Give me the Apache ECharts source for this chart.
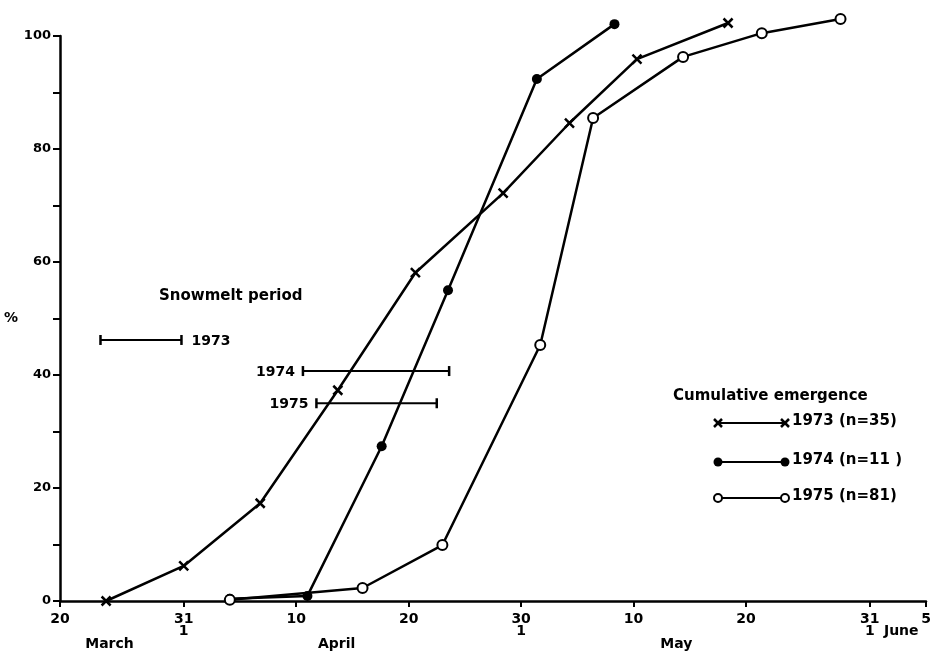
<!DOCTYPE html>
<html>
<head>
<meta charset="utf-8">
<script src="https://cdn.jsdelivr.net/npm/echarts@6/dist/echarts.min.js"></script>
<style>
  html, body { margin: 0; padding: 0; background: #fff; }
  #chart { width: 935px; height: 652px; }
</style>
</head>
<body>
<div id="chart"></div>
<script>
// days counted from 20 March (day 0), values in %
const days73 = [4.1, 11.0, 17.8, 24.7, 31.6, 39.4, 45.3, 51.3, 59.4]
const pct73 = [0, 6.2, 17.3, 37.3, 58.1, 72.2, 84.6, 95.9, 102.3]
const days74 = [15.1, 22.0, 28.6, 34.5, 42.4, 49.3]
const pct74 = [0.4, 0.9, 27.4, 55.0, 92.4, 102.1]
const days75 = [15.1, 26.9, 34.0, 42.7, 47.4, 55.4, 62.4, 69.4]
const pct75 = [0.2, 2.3, 9.9, 45.3, 85.5, 96.3, 100.5, 103.0]
const seriesNames = ['1973 (n=35)', '1974 (n=11 )', '1975 (n=81)']

// snowmelt periods
const snowYears = ['1973', '1974', '1975']
const snowStart = [3.6, 21.6, 22.8]
const snowEnd = [10.8, 34.6, 33.5]
const snowLevel = [46.2, 40.7, 35.0]

// x axis ticks and labels
const tickDays = [0, 11, 21, 31, 41, 51, 61, 72, 77]
const tickLabels = ['20', '31\n1', '10', '20', '30\n1', '10', '20', '31\n1', '5']
const monthDays = [4.4, 24.6, 54.8, 74.8]
const monthLabels = ['\n\nMarch', '\n\nApril', '\n\nMay', '\nJune']

const FONT = 'DejaVu Sans'
const labelMap = {}
tickDays.forEach((d, i) => { labelMap[String(d)] = tickLabels[i] })
monthDays.forEach((d, i) => { labelMap[String(d)] = monthLabels[i] })

const pairs = (xs, ys) => xs.map((x, i) => [x, ys[i]])

const lineBase = {
  type: 'line',
  clip: false,
  lineStyle: { color: '#000', width: 2.5 },
  z: 3
}

// legend drawn by hand: symbol - line - symbol, then the text
function legendGraphics () {
  const rows = [423, 462, 498]
  const kinds = ['cross', 'dot', 'ring']
  const out = [{
    type: 'text', left: 673, top: 389,
    style: { text: 'Cumulative emergence', font: 'bold 15px ' + FONT, fill: '#000' }
  }]
  rows.forEach((y, i) => {
    out.push({ type: 'line', shape: { x1: 718, y1: y, x2: 785, y2: y }, style: { stroke: '#000', lineWidth: 2 } })
    ;[718, 785].forEach(x => {
      if (kinds[i] === 'cross') {
        out.push({ type: 'line', shape: { x1: x - 4, y1: y - 4, x2: x + 4, y2: y + 4 }, style: { stroke: '#000', lineWidth: 2.5 } })
        out.push({ type: 'line', shape: { x1: x - 4, y1: y + 4, x2: x + 4, y2: y - 4 }, style: { stroke: '#000', lineWidth: 2.5 } })
      } else if (kinds[i] === 'dot') {
        out.push({ type: 'circle', shape: { cx: x, cy: y, r: 4.5 }, style: { fill: '#000' } })
      } else {
        out.push({ type: 'circle', shape: { cx: x, cy: y, r: 4 }, style: { fill: '#fff', stroke: '#000', lineWidth: 2 } })
      }
    })
    out.push({
      type: 'text', left: 792, top: y - 9,
      style: { text: seriesNames[i], font: 'bold 15px ' + FONT, fill: '#000' }
    })
  })
  return out
}

const myChart = echarts.init(document.getElementById('chart'))
const option = {
  animation: false,
  backgroundColor: '#fff',
  grid: { left: 60, right: 9, top: 36, bottom: 51, outerBoundsMode: 'none' },
  xAxis: {
    type: 'value',
    min: 0,
    max: 77,
    splitLine: { show: false },
    axisLine: { lineStyle: { color: '#000', width: 2.5 } },
    axisTick: { show: true, customValues: tickDays, length: 6, lineStyle: { color: '#000', width: 2 } },
    axisLabel: {
      customValues: tickDays.concat(monthDays),
      formatter: v => labelMap[String(v)] || '',
      margin: 12,
      color: '#000',
      fontFamily: FONT,
      fontWeight: 'bold',
      fontSize: 14,
      lineHeight: 12.5
    }
  },
  yAxis: {
    type: 'value',
    min: 0,
    max: 100,
    interval: 10,
    name: '%',
    nameLocation: 'middle',
    nameRotate: 0,
    nameGap: 30,
    nameTextStyle: { color: '#000', fontFamily: FONT, fontWeight: 'bold', fontSize: 14 },
    splitLine: { show: false },
    axisLine: { show: true, lineStyle: { color: '#000', width: 2.5 } },
    axisTick: { show: true, length: 7, lineStyle: { color: '#000', width: 2 } },
    axisLabel: {
      formatter: v => (v % 20 === 0 ? String(v) : ''),
      margin: 9,
      color: '#000',
      fontFamily: FONT,
      fontWeight: 'bold',
      fontSize: 13
    }
  },
  graphic: [{
    type: 'text', left: 159, top: 289,
    style: { text: 'Snowmelt period', font: 'bold 15px ' + FONT, fill: '#000' }
  }].concat(legendGraphics()),
  series: [
    Object.assign({}, lineBase, {
      name: seriesNames[0],
      data: pairs(days73, pct73),
      symbol: 'path://M0,0L10,10M10,0L0,10',
      symbolSize: 9,
      itemStyle: { color: '#000', borderColor: '#000', borderWidth: 2.5 }
    }),
    Object.assign({}, lineBase, {
      name: seriesNames[1],
      data: pairs(days74, pct74),
      symbol: 'circle',
      symbolSize: 10,
      itemStyle: { color: '#000' }
    }),
    Object.assign({}, lineBase, {
      name: seriesNames[2],
      data: pairs(days75, pct75),
      symbol: 'emptyCircle',
      symbolSize: 10,
      itemStyle: { color: '#000', borderWidth: 2.5 }
    }),
    {
      type: 'custom',
      name: 'Snowmelt period',
      data: snowYears.map((y, i) => [snowStart[i], snowEnd[i], snowLevel[i]]),
      encode: { x: [0, 1], y: 2 },
      clip: false,
      renderItem (params, api) {
        const s = api.coord([api.value(0), api.value(2)])
        const e = api.coord([api.value(1), api.value(2)])
        const cap = 5
        const st = { stroke: '#000', lineWidth: 2 }
        const onRight = params.dataIndex === 0 // 1973 label sits after the bar
        return {
          type: 'group',
          children: [
            { type: 'line', shape: { x1: s[0], y1: s[1], x2: e[0], y2: e[1] }, style: st },
            { type: 'line', shape: { x1: s[0], y1: s[1] - cap, x2: s[0], y2: s[1] + cap }, style: { stroke: '#000', lineWidth: 2.5 } },
            { type: 'line', shape: { x1: e[0], y1: e[1] - cap, x2: e[0], y2: e[1] + cap }, style: { stroke: '#000', lineWidth: 2.5 } },
            {
              type: 'text',
              x: onRight ? e[0] + 10 : s[0] - 8,
              y: s[1] + 1,
              style: {
                text: snowYears[params.dataIndex],
                align: onRight ? 'left' : 'right',
                verticalAlign: 'middle',
                font: 'bold 14px ' + FONT,
                fill: '#000'
              }
            }
          ]
        }
      }
    }
  ]
}
myChart.setOption(option)
</script>
</body>
</html>
